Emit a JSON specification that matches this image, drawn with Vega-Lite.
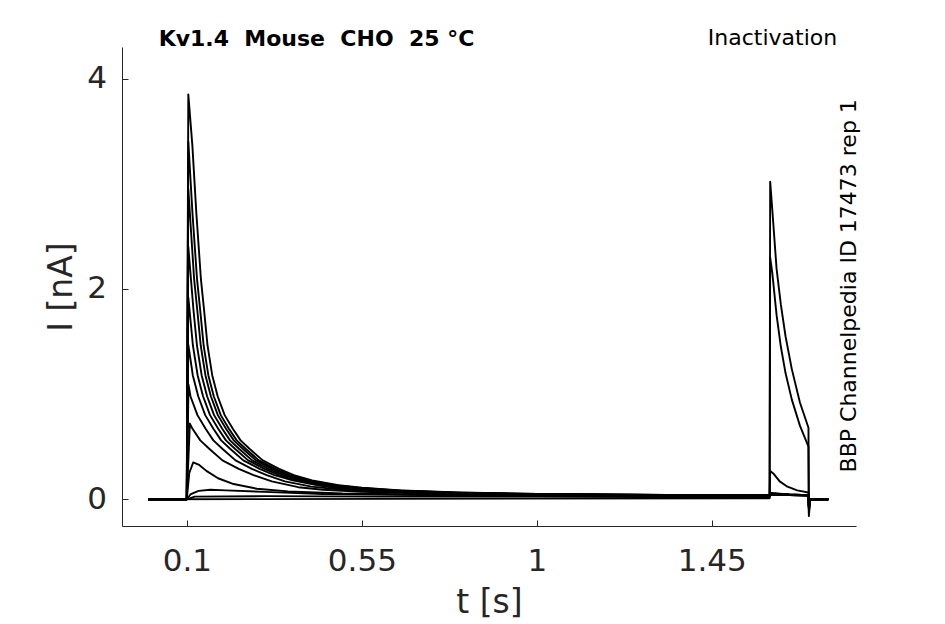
{
  "$schema": "https://vega.github.io/schema/vega-lite/v6.json",
  "width": 734,
  "height": 479,
  "autosize": "none",
  "padding": {"left": 122, "top": 47, "right": 89, "bottom": 98},
  "background": "white",
  "config": {"view": {"stroke": null}, "font": "DejaVu Sans"},
  "layer": [
    {
      "data": {
        "values": [
          {"s":1,"t":0,"i":0},{"s":1,"t":0.0995,"i":0},{"s":1,"t":0.1035,"i":3.85},{"s":1,"t":0.114,"i":3.36},{"s":1,"t":0.124,"i":2.73},{"s":1,"t":0.136,"i":2.09},{"s":1,"t":0.144,"i":1.8},{"s":1,"t":0.153,"i":1.46},{"s":1,"t":0.165,"i":1.18},{"s":1,"t":0.179,"i":0.98},{"s":1,"t":0.197,"i":0.8},{"s":1,"t":0.218,"i":0.67},{"s":1,"t":0.238,"i":0.56},{"s":1,"t":0.261,"i":0.48},{"s":1,"t":0.295,"i":0.37},{"s":1,"t":0.337,"i":0.29},{"s":1,"t":0.375,"i":0.23},{"s":1,"t":0.422,"i":0.18},{"s":1,"t":0.49,"i":0.135},{"s":1,"t":0.55,"i":0.11},{"s":1,"t":0.65,"i":0.085},{"s":1,"t":0.8,"i":0.065},{"s":1,"t":1.0,"i":0.05},{"s":1,"t":1.2,"i":0.045},{"s":1,"t":1.4,"i":0.04},{"s":1,"t":1.599,"i":0.04},{"s":1,"t":1.6005,"i":0.06},{"s":1,"t":1.65,"i":0.045},{"s":1,"t":1.699,"i":0.04},{"s":1,"t":1.7,"i":-0.08},{"s":1,"t":1.7035,"i":0},{"s":1,"t":1.75,"i":0},
          {"s":2,"t":0,"i":0},{"s":2,"t":0.0995,"i":0},{"s":2,"t":0.1035,"i":3.4},{"s":2,"t":0.114,"i":2.73},{"s":2,"t":0.126,"i":2.09},{"s":2,"t":0.134,"i":1.8},{"s":2,"t":0.143,"i":1.46},{"s":2,"t":0.155,"i":1.18},{"s":2,"t":0.169,"i":0.98},{"s":2,"t":0.187,"i":0.8},{"s":2,"t":0.208,"i":0.67},{"s":2,"t":0.228,"i":0.56},{"s":2,"t":0.251,"i":0.48},{"s":2,"t":0.285,"i":0.37},{"s":2,"t":0.327,"i":0.29},{"s":2,"t":0.365,"i":0.23},{"s":2,"t":0.412,"i":0.18},{"s":2,"t":0.48,"i":0.135},{"s":2,"t":0.54,"i":0.11},{"s":2,"t":0.64,"i":0.085},{"s":2,"t":0.8,"i":0.063},{"s":2,"t":1.0,"i":0.05},{"s":2,"t":1.2,"i":0.045},{"s":2,"t":1.4,"i":0.04},{"s":2,"t":1.599,"i":0.04},{"s":2,"t":1.6005,"i":0.055},{"s":2,"t":1.65,"i":0.045},{"s":2,"t":1.699,"i":0.04},{"s":2,"t":1.7,"i":-0.08},{"s":2,"t":1.7035,"i":0},{"s":2,"t":1.75,"i":0},
          {"s":3,"t":0,"i":0},{"s":3,"t":0.0995,"i":0},{"s":3,"t":0.1035,"i":2.95},{"s":3,"t":0.1185,"i":2.09},{"s":3,"t":0.1265,"i":1.8},{"s":3,"t":0.1355,"i":1.46},{"s":3,"t":0.1475,"i":1.18},{"s":3,"t":0.1615,"i":0.98},{"s":3,"t":0.1795,"i":0.8},{"s":3,"t":0.2005,"i":0.67},{"s":3,"t":0.2205,"i":0.56},{"s":3,"t":0.2435,"i":0.48},{"s":3,"t":0.2775,"i":0.37},{"s":3,"t":0.3195,"i":0.29},{"s":3,"t":0.3575,"i":0.23},{"s":3,"t":0.4045,"i":0.18},{"s":3,"t":0.4725,"i":0.135},{"s":3,"t":0.53,"i":0.11},{"s":3,"t":0.63,"i":0.083},{"s":3,"t":0.8,"i":0.06},{"s":3,"t":1.0,"i":0.048},{"s":3,"t":1.2,"i":0.043},{"s":3,"t":1.4,"i":0.04},{"s":3,"t":1.599,"i":0.038},{"s":3,"t":1.6005,"i":0.055},{"s":3,"t":1.65,"i":0.045},{"s":3,"t":1.699,"i":0.04},{"s":3,"t":1.7,"i":-0.08},{"s":3,"t":1.7035,"i":0},{"s":3,"t":1.75,"i":0},
          {"s":4,"t":0,"i":0},{"s":4,"t":0.0995,"i":0},{"s":4,"t":0.1035,"i":2.4},{"s":4,"t":0.1168,"i":1.8},{"s":4,"t":0.1258,"i":1.46},{"s":4,"t":0.1378,"i":1.18},{"s":4,"t":0.1518,"i":0.98},{"s":4,"t":0.1698,"i":0.8},{"s":4,"t":0.1908,"i":0.67},{"s":4,"t":0.2108,"i":0.56},{"s":4,"t":0.2338,"i":0.48},{"s":4,"t":0.2678,"i":0.37},{"s":4,"t":0.3098,"i":0.29},{"s":4,"t":0.3478,"i":0.23},{"s":4,"t":0.3948,"i":0.18},{"s":4,"t":0.4628,"i":0.135},{"s":4,"t":0.52,"i":0.11},{"s":4,"t":0.62,"i":0.08},{"s":4,"t":0.8,"i":0.058},{"s":4,"t":1.0,"i":0.047},{"s":4,"t":1.2,"i":0.042},{"s":4,"t":1.4,"i":0.04},{"s":4,"t":1.599,"i":0.037},{"s":4,"t":1.6005,"i":0.05},{"s":4,"t":1.65,"i":0.042},{"s":4,"t":1.699,"i":0.038},{"s":4,"t":1.7,"i":-0.07},{"s":4,"t":1.7035,"i":0},{"s":4,"t":1.75,"i":0},
          {"s":5,"t":0,"i":0},{"s":5,"t":0.0995,"i":0},{"s":5,"t":0.1035,"i":1.92},{"s":5,"t":0.1154,"i":1.46},{"s":5,"t":0.1274,"i":1.18},{"s":5,"t":0.1414,"i":0.98},{"s":5,"t":0.1594,"i":0.8},{"s":5,"t":0.1804,"i":0.67},{"s":5,"t":0.2004,"i":0.56},{"s":5,"t":0.2234,"i":0.48},{"s":5,"t":0.2574,"i":0.37},{"s":5,"t":0.2994,"i":0.29},{"s":5,"t":0.3374,"i":0.23},{"s":5,"t":0.3844,"i":0.18},{"s":5,"t":0.4524,"i":0.135},{"s":5,"t":0.51,"i":0.105},{"s":5,"t":0.62,"i":0.078},{"s":5,"t":0.8,"i":0.057},{"s":5,"t":1.0,"i":0.047},{"s":5,"t":1.2,"i":0.042},{"s":5,"t":1.4,"i":0.038},{"s":5,"t":1.599,"i":0.036},{"s":5,"t":1.6005,"i":0.05},{"s":5,"t":1.65,"i":0.042},{"s":5,"t":1.699,"i":0.038},{"s":5,"t":1.7,"i":-0.07},{"s":5,"t":1.7035,"i":0},{"s":5,"t":1.75,"i":0},
          {"s":6,"t":0,"i":0},{"s":6,"t":0.0995,"i":0},{"s":6,"t":0.1035,"i":1.47},{"s":6,"t":0.115,"i":1.18},{"s":6,"t":0.129,"i":0.98},{"s":6,"t":0.147,"i":0.8},{"s":6,"t":0.168,"i":0.67},{"s":6,"t":0.188,"i":0.56},{"s":6,"t":0.211,"i":0.48},{"s":6,"t":0.245,"i":0.37},{"s":6,"t":0.287,"i":0.29},{"s":6,"t":0.325,"i":0.23},{"s":6,"t":0.372,"i":0.18},{"s":6,"t":0.44,"i":0.13},{"s":6,"t":0.5,"i":0.1},{"s":6,"t":0.6,"i":0.075},{"s":6,"t":0.8,"i":0.055},{"s":6,"t":1.0,"i":0.045},{"s":6,"t":1.2,"i":0.04},{"s":6,"t":1.4,"i":0.037},{"s":6,"t":1.599,"i":0.035},{"s":6,"t":1.6005,"i":0.05},{"s":6,"t":1.65,"i":0.04},{"s":6,"t":1.699,"i":0.037},{"s":6,"t":1.7,"i":-0.07},{"s":6,"t":1.7035,"i":0},{"s":6,"t":1.75,"i":0},
          {"s":7,"t":0,"i":0},{"s":7,"t":0.0995,"i":0},{"s":7,"t":0.104,"i":1.09},{"s":7,"t":0.109,"i":0.98},{"s":7,"t":0.127,"i":0.8},{"s":7,"t":0.148,"i":0.67},{"s":7,"t":0.168,"i":0.56},{"s":7,"t":0.191,"i":0.48},{"s":7,"t":0.225,"i":0.37},{"s":7,"t":0.267,"i":0.29},{"s":7,"t":0.305,"i":0.23},{"s":7,"t":0.352,"i":0.17},{"s":7,"t":0.42,"i":0.12},{"s":7,"t":0.5,"i":0.09},{"s":7,"t":0.6,"i":0.07},{"s":7,"t":0.8,"i":0.053},{"s":7,"t":1.0,"i":0.045},{"s":7,"t":1.2,"i":0.04},{"s":7,"t":1.4,"i":0.036},{"s":7,"t":1.599,"i":0.035},{"s":7,"t":1.6005,"i":0.048},{"s":7,"t":1.65,"i":0.04},{"s":7,"t":1.699,"i":0.036},{"s":7,"t":1.7,"i":-0.06},{"s":7,"t":1.7035,"i":0},{"s":7,"t":1.75,"i":0},
          {"s":8,"t":0,"i":0},{"s":8,"t":0.0995,"i":0},{"s":8,"t":0.1075,"i":0.72},{"s":8,"t":0.1143,"i":0.67},{"s":8,"t":0.1343,"i":0.56},{"s":8,"t":0.1573,"i":0.48},{"s":8,"t":0.1913,"i":0.37},{"s":8,"t":0.2333,"i":0.29},{"s":8,"t":0.2713,"i":0.23},{"s":8,"t":0.3183,"i":0.17},{"s":8,"t":0.3863,"i":0.115},{"s":8,"t":0.45,"i":0.09},{"s":8,"t":0.55,"i":0.07},{"s":8,"t":0.7,"i":0.057},{"s":8,"t":0.9,"i":0.05},{"s":8,"t":1.1,"i":0.043},{"s":8,"t":1.3,"i":0.038},{"s":8,"t":1.5,"i":0.035},{"s":8,"t":1.599,"i":0.034},{"s":8,"t":1.6005,"i":0.045},{"s":8,"t":1.65,"i":0.04},{"s":8,"t":1.699,"i":0.035},{"s":8,"t":1.7,"i":-0.06},{"s":8,"t":1.7035,"i":0},{"s":8,"t":1.75,"i":0},
          {"s":9,"t":0,"i":0},{"s":9,"t":0.0995,"i":0},{"s":9,"t":0.106,"i":0.25},{"s":9,"t":0.116,"i":0.35},{"s":9,"t":0.13,"i":0.33},{"s":9,"t":0.15,"i":0.27},{"s":9,"t":0.18,"i":0.2},{"s":9,"t":0.22,"i":0.145},{"s":9,"t":0.28,"i":0.1},{"s":9,"t":0.36,"i":0.075},{"s":9,"t":0.5,"i":0.055},{"s":9,"t":0.7,"i":0.045},{"s":9,"t":0.9,"i":0.04},{"s":9,"t":1.1,"i":0.04},{"s":9,"t":1.3,"i":0.035},{"s":9,"t":1.5,"i":0.035},{"s":9,"t":1.599,"i":0.035},{"s":9,"t":1.6005,"i":0.05},{"s":9,"t":1.65,"i":0.04},{"s":9,"t":1.699,"i":0.035},{"s":9,"t":1.7,"i":-0.06},{"s":9,"t":1.7035,"i":0},{"s":9,"t":1.75,"i":0},
          {"s":10,"t":0,"i":0},{"s":10,"t":0.0995,"i":0},{"s":10,"t":0.11,"i":0.05},{"s":10,"t":0.13,"i":0.08},{"s":10,"t":0.16,"i":0.09},{"s":10,"t":0.2,"i":0.085},{"s":10,"t":0.3,"i":0.07},{"s":10,"t":0.45,"i":0.05},{"s":10,"t":0.7,"i":0.04},{"s":10,"t":0.9,"i":0.035},{"s":10,"t":1.1,"i":0.035},{"s":10,"t":1.3,"i":0.03},{"s":10,"t":1.5,"i":0.03},{"s":10,"t":1.599,"i":0.03},{"s":10,"t":1.6005,"i":0.27},{"s":10,"t":1.61,"i":0.24},{"s":10,"t":1.625,"i":0.17},{"s":10,"t":1.645,"i":0.12},{"s":10,"t":1.67,"i":0.085},{"s":10,"t":1.699,"i":0.065},{"s":10,"t":1.7,"i":-0.1},{"s":10,"t":1.7035,"i":0},{"s":10,"t":1.75,"i":0},
          {"s":11,"t":0,"i":0},{"s":11,"t":0.0995,"i":0},{"s":11,"t":0.12,"i":0.025},{"s":11,"t":0.3,"i":0.03},{"s":11,"t":0.6,"i":0.025},{"s":11,"t":1.0,"i":0.025},{"s":11,"t":1.4,"i":0.02},{"s":11,"t":1.599,"i":0.02},{"s":11,"t":1.6005,"i":2.3},{"s":11,"t":1.606,"i":2.15},{"s":11,"t":1.617,"i":1.75},{"s":11,"t":1.628,"i":1.45},{"s":11,"t":1.64,"i":1.2},{"s":11,"t":1.656,"i":0.95},{"s":11,"t":1.677,"i":0.7},{"s":11,"t":1.699,"i":0.5},{"s":11,"t":1.7,"i":-0.13},{"s":11,"t":1.7035,"i":0},{"s":11,"t":1.75,"i":0},
          {"s":12,"t":0,"i":0},{"s":12,"t":1.599,"i":0.01},{"s":12,"t":1.6005,"i":3.02},{"s":12,"t":1.606,"i":2.75},{"s":12,"t":1.617,"i":2.19},{"s":12,"t":1.628,"i":1.85},{"s":12,"t":1.64,"i":1.55},{"s":12,"t":1.656,"i":1.24},{"s":12,"t":1.677,"i":0.92},{"s":12,"t":1.699,"i":0.68},{"s":12,"t":1.7,"i":-0.16},{"s":12,"t":1.7035,"i":0},{"s":12,"t":1.75,"i":0}
        ]
      },
      "mark": {"type": "line", "color": "black", "strokeWidth": 1.9, "strokeJoin": "round"},
      "encoding": {
        "x": {
          "field": "t",
          "type": "quantitative",
          "scale": {"domain": [-0.0671, 1.8213], "nice": false, "zero": false},
          "axis": {
            "values": [0.1, 0.55, 1, 1.45],
            "format": ".3~g",
            "title": "t [s]",
            "titleFontSize": 33,
            "titleFontWeight": "normal",
            "titleColor": "#262626",
            "titleBaseline": "alphabetic",
            "titleY": 86,
            "labelFontSize": 31,
            "labelColor": "#262626",
            "labelPadding": 26.5,
            "labelFlush": false,
            "labelOverlap": false,
            "tickSize": -6,
            "tickColor": "#262626",
            "domainColor": "#262626",
            "grid": false
          }
        },
        "y": {
          "field": "i",
          "type": "quantitative",
          "scale": {"domain": [-0.254, 4.3], "nice": false, "zero": false},
          "axis": {
            "values": [0, 2, 4],
            "format": ".1~g",
            "title": "I [nA]",
            "titleFontSize": 33,
            "titleFontWeight": "normal",
            "titleColor": "#262626",
            "titleBaseline": "alphabetic",
            "titleAngle": 270,
            "titleX": -50.5,
            "labelFontSize": 31,
            "labelColor": "#262626",
            "labelPadding": 21.6,
            "labelFlush": false,
            "labelOverlap": false,
            "tickSize": -6,
            "tickColor": "#262626",
            "domainColor": "#262626",
            "grid": false
          }
        },
        "detail": {"field": "s", "type": "nominal"}
      }
    },
    {
      "data": {"values": [{}]},
      "mark": {"type": "text", "text": "Kv1.4\u00a0\u00a0Mouse\u00a0\u00a0CHO\u00a0\u00a025\u00a0°C", "align": "left", "baseline": "alphabetic", "fontSize": 22, "fontWeight": "bold", "font": "DejaVu Sans", "color": "black"},
      "encoding": {"x": {"datum": 0.0272}, "y": {"datum": 4.309}}
    },
    {
      "data": {"values": [{}]},
      "mark": {"type": "text", "text": "Inactivation", "align": "right", "baseline": "alphabetic", "fontSize": 22, "font": "DejaVu Sans", "color": "black"},
      "encoding": {"x": {"datum": 1.773}, "y": {"datum": 4.316}}
    },
    {
      "data": {"values": [{}]},
      "mark": {"type": "text", "text": "BBP Channelpedia ID 17473 rep 1", "angle": 270, "align": "center", "baseline": "alphabetic", "fontSize": 22, "font": "DejaVu Sans", "color": "black"},
      "encoding": {"x": {"datum": 1.821}, "y": {"datum": 2.03}}
    }
  ]
}
